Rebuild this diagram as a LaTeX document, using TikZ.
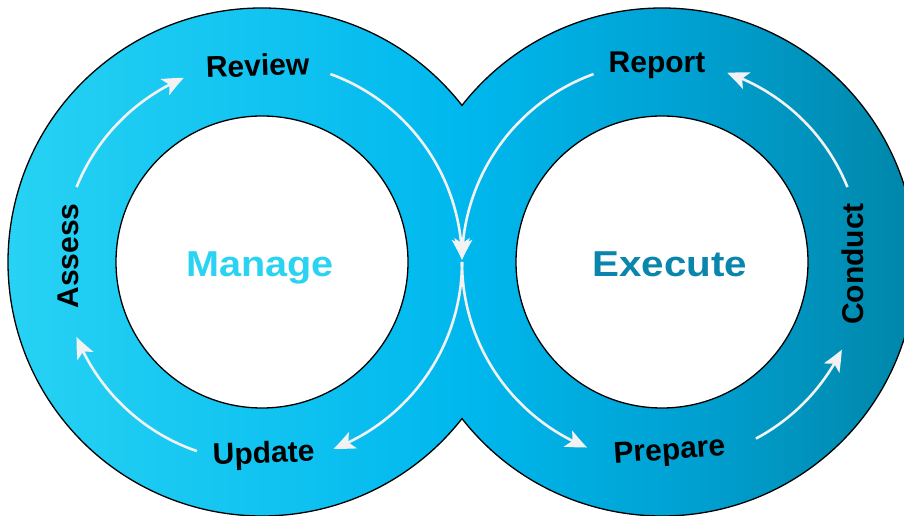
\documentclass[tikz,border=0pt]{standalone}
\usepackage{fontspec}
\setmainfont{Liberation Sans}
\usetikzlibrary{arrows.meta,calc,bending}
\definecolor{cL}{HTML}{2AD4F4}
\definecolor{cM}{HTML}{00B8EE}
\definecolor{cM2}{HTML}{009FCF}
\definecolor{cR}{HTML}{0082A3}
\definecolor{arrowc}{HTML}{F2F2F2}
\definecolor{mng}{HTML}{2AD3F2}
\definecolor{exe}{HTML}{0A86AC}
\pgfdeclarehorizontalshading{bandshade}{100bp}{color(0bp)=(cL); color(25bp)=(cL); color(50bp)=(cM); color(62.5bp)=(cM2); color(75bp)=(cR); color(100bp)=(cR)}
\begin{document}
\begin{tikzpicture}[x=1pt,y=1pt,
  flow/.style={draw=arrowc, line width=2.6pt, -{Stealth[length=21pt,width=18pt,inset=5pt,bend]}},
  lbl/.style={font=\bfseries\fontsize{30}{30}\selectfont, text=black, inner sep=0pt, anchor=base},
  big/.style={font=\bfseries\fontsize{36}{36}\selectfont, inner sep=0pt, anchor=base},
  hole/.style={circle, draw=black, fill=white, line width=1.3pt, minimum size=292pt, inner sep=0pt}]
\useasboundingbox (0,0) rectangle (904,516);
\clip (0,0) rectangle (904,516);
\coordinate (L) at (262,254);
\coordinate (R) at (662,254);
% infinity band
\shadedraw[shading=bandshade, draw=black, line width=1.3pt]
  ($(L)+(38.06:254)$) arc (38.06:321.94:254) arc (218.06:501.94:254) -- cycle;
\node[hole] (inL) at (L) {};
\node[hole] (inR) at (R) {};
% flow arrows
\coordinate (a1) at ($(L)+(158:200)$);
\coordinate (a2) at ($(L)+(70:200)$);
\coordinate (a3) at ($(R)+(110:200)$);
\coordinate (a4) at ($(L)+(0:200)$);
\coordinate (a5) at ($(L)+(-109:200)$);
\coordinate (a6) at ($(R)+(180:200)$);
\coordinate (a7) at ($(R)+(-62:200)$);
\coordinate (a8) at ($(R)+(22:200)$);
\draw[flow] (a1) arc (158:113:200);
\draw[flow] (a2) arc (70:0.6:200);
\draw[flow] (a3) arc (110:179.4:200);
\draw[flow] (a4) arc (0:-69:200);
\draw[flow] (a5) arc (-109:-158:200);
\draw[flow] (a6) arc (180:248:200);
\draw[flow] (a7) arc (-62:-26:200);
\draw[flow] (a8) arc (22:71:200);
% labels
\node[lbl, rotate=2] (review) at (258,440) {Review};
\node[lbl, rotate=2] (update) at (264,53) {Update};
\node[lbl] (report) at (657,443) {Report};
\node[lbl, rotate=4] (prepare) at (670,56.5) {Prepare};
\node[lbl, rotate=90] (assess) at (78,260) {Assess};
\node[lbl, rotate=90] (conduct) at (863,252) {Conduct};
\node[big, text=mng, xscale=1.1] (manage) at (260,239) {Manage};
\node[big, text=exe, xscale=1.12] (execute) at (670,239) {Execute};
\end{tikzpicture}
\end{document}
